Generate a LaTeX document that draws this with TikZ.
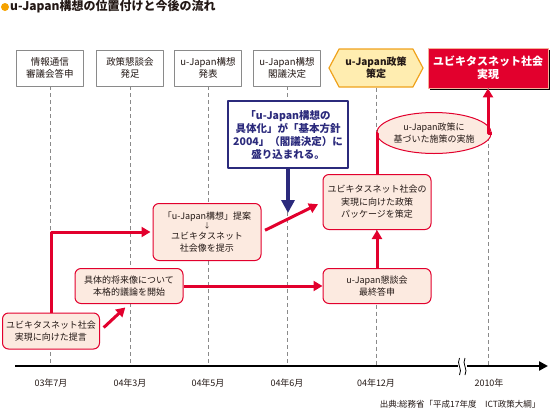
\documentclass[tikz,border=0pt]{standalone}
\usepackage{fontspec}
\setmainfont{Noto Sans CJK JP}
\usepackage{tikz}
\usetikzlibrary{arrows.meta,shadows,shapes.geometric,shapes.symbols}
\definecolor{ujRed}{HTML}{E2002D}
\definecolor{ujPeach}{HTML}{FCEAE0}
\definecolor{ujNavy}{HTML}{2B2A7C}
\definecolor{ujGold}{HTML}{EFA21C}
\definecolor{ujCream}{HTML}{FFEDB0}
\definecolor{ujGrey}{HTML}{8A8A8A}
\definecolor{ujInk}{HTML}{231815}
\definecolor{ujSalmon}{HTML}{F6B09A}
\definecolor{ujOrange}{HTML}{F5A200}
\tikzset{
  uj diagram/.style={x=1pt, y=-1pt, text=ujInk, line join=round},
  uj event/.style={draw=ujGrey, fill=white, line width=0.8pt, align=center,
    minimum width=67pt, minimum height=36pt, inner sep=2pt,
    font=\fontsize{9.5}{12}\selectfont},
  uj policy/.style={shape=signal, signal to=west and east, signal pointer angle=124,
    draw=ujGold, fill=ujCream, line width=1.2pt, align=center,
    minimum width=94pt, minimum height=38pt, inner sep=1pt,
    font=\bfseries\fontsize{10}{12}\selectfont},
  uj goal/.style={fill=ujRed, draw=ujSalmon, line width=0.8pt, text=white, align=center,
    minimum width=120pt, minimum height=40pt, inner sep=2pt,
    general shadow={fill=black, shadow xshift=2pt, shadow yshift=-2pt},
    font=\bfseries\fontsize{11}{13}\selectfont},
  uj stepbox/.style={draw=ujRed, fill=ujPeach, line width=1pt, rounded corners=6pt,
    align=center, inner sep=2pt, minimum width=108pt,
    font=\fontsize{9}{12.5}\selectfont},
  uj oval/.style={ellipse, draw=ujRed, fill=ujPeach, line width=1pt, align=center,
    minimum width=95pt, minimum height=41pt, inner sep=0pt,
    font=\fontsize{9}{12}\selectfont},
  uj note/.style={draw=ujNavy, fill=white, line width=1.2pt, text=ujNavy, align=center,
    minimum width=120pt, minimum height=67pt, inner sep=2pt,
    font=\bfseries\fontsize{10.5}{13}\selectfont},
  uj arrow/.style={-{Triangle[length=9pt,width=10pt]}, draw=ujRed, line width=3pt},
  uj link/.style={draw=ujRed, line width=3pt},
  uj push/.style={-{Triangle[length=13pt,width=13pt]}, draw=ujNavy, line width=4pt},
  uj guide/.style={draw=ujGrey, line width=0.7pt, dash pattern=on 4pt off 3pt},
  uj axis/.style={-{Triangle[length=9pt,width=9pt]}, draw=black, line width=2.5pt},
  uj date/.style={font=\fontsize{9}{11}\selectfont},
  uj source/.style={font=\fontsize{8.5}{10}\selectfont}
}
\begin{document}
\begin{tikzpicture}[uj diagram]
\useasboundingbox (0,0) rectangle (550,413);
\fill[ujOrange] (5,7) circle (4pt);
\node[anchor=west, inner sep=0pt, font=\bfseries\fontsize{12}{14}\selectfont] (title) at (10,7) {u-Japan構想の位置付けと今後の流れ};

\node[uj event] (report) at (50,68) {情報通信\\審議会答申};
\node[uj event] (council) at (130,68) {政策懇談会\\発足};
\node[uj event] (announce) at (208,68) {u-Japan構想\\発表};
\node[uj event] (cabinet) at (287,68) {u-Japan構想\\閣議決定};
\node[uj policy] (policy) at (376,68) {u-Japan政策\\策定};
\node[uj goal] (goal) at (488,68) {ユビキタスネット社会\\実現};

\coordinate (axisL) at (15,366);
\coordinate (axisR) at (548,366);
\foreach \n in {report,council,announce,cabinet,policy,goal}
  \draw[uj guide] (\n.south) -- (\n.south |- axisL);
\draw[uj axis] (axisL) -- (axisR);
\fill[white] (458,358) rectangle (467,375);
\draw[line width=0.8pt] (459.5,358) .. controls (456,364) and (463,369) .. (459.5,375);
\draw[line width=0.8pt] (465,358) .. controls (461.5,364) and (468.5,369) .. (465,375);
\foreach \x/\t [count=\i] in {51/03年7月,130/04年3月,208/04年5月,287/04年6月,376/04年12月,489/2010年}
  \node[uj date] (date\i) at (\x,383) {\t};

\node[uj stepbox, minimum width=97pt, minimum height=36pt] (proposal) at (51,331) {ユビキタスネット社会\\実現に向けた提言};
\node[uj stepbox, minimum height=35pt] (debate) at (129,286) {具体的将来像について\\本格的議論を開始};
\node[uj stepbox, minimum height=57pt] (vision) at (207,232) {「u-Japan構想」提案\\[-3pt]{\fontsize{7}{8}\selectfont ↓}\\[-2pt]ユビキタスネット\\社会像を提示};
\node[uj stepbox, minimum height=55pt] (package) at (377,202) {ユビキタスネット社会の\\実現に向けた政策\\パッケージを策定};
\node[uj stepbox, minimum height=35pt] (final) at (377,286) {u-Japan懇談会\\最終答申};
\node[uj oval] (measures) at (434,133) {u-Japan政策に\\基づいた施策の実施};
\node[uj note] (basic) at (288,134.5) {「u-Japan構想の\\具体化」が「基本方針\\2004」（閣議決定）に\\盛り込まれる。};
\coordinate (basicend) at (288,213);

\draw[uj arrow, shorten >=2pt] (proposal.north) |- (vision.west);
\draw[uj arrow, shorten <=5pt, shorten >=5pt] (proposal.east) -- (debate.south);
\draw[uj arrow] (debate.east) -- (final.west);
\draw[uj arrow, shorten <=4pt, shorten >=5pt] (vision.east) -- (package.west);
\draw[uj arrow] (final.north) -- (package.south);
\draw[uj link] (package.north) |- (measures.west);
\draw[uj arrow] (measures.east) -| (goal.south);
\draw[uj push] (basic.south) -- (basicend);

\node[uj source, anchor=east] (source) at (544,404) {出典:総務省「平成17年度　ICT政策大綱」};
\end{tikzpicture}
\end{document}
